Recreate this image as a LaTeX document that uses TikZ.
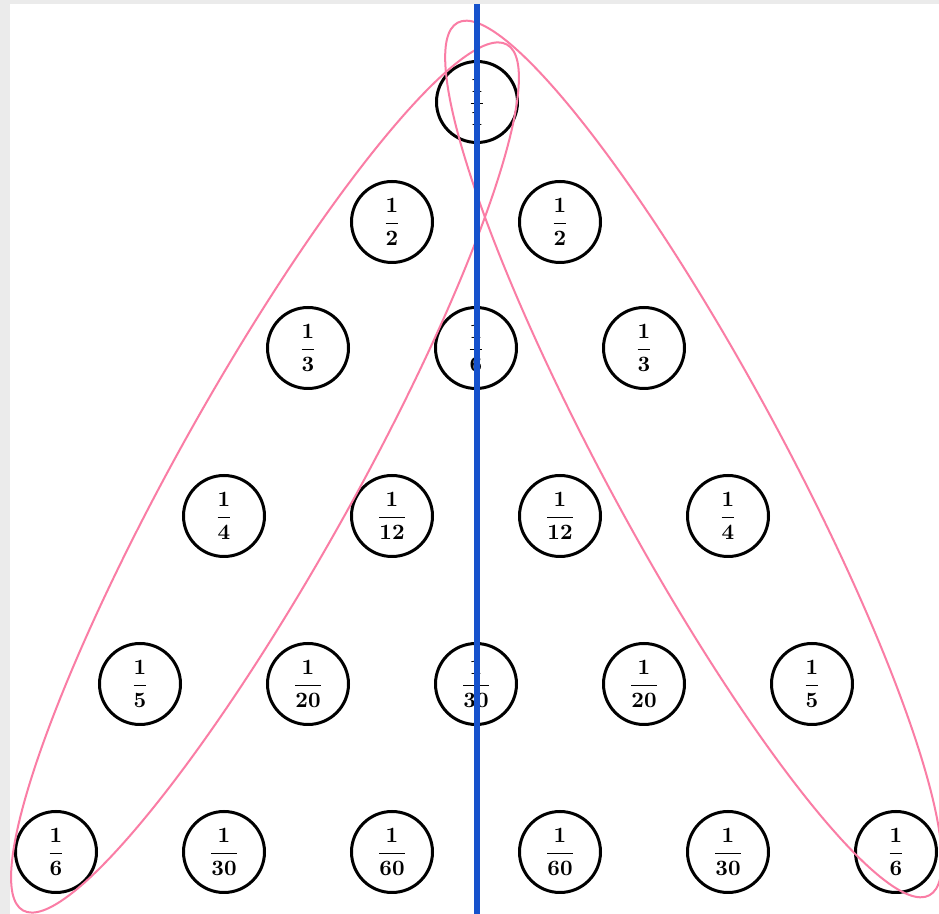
\documentclass[tikz,border=0pt]{standalone}
\definecolor{bgc}{RGB}{235,235,235}
\definecolor{pinkc}{RGB}{250,125,165}
\definecolor{bluec}{RGB}{22,82,204}
\begin{document}
\begin{tikzpicture}[x=0.5pt,y=-0.5pt,
  cell/.style={circle,draw=black,line width=1.5pt,minimum size=40.5pt,inner sep=0pt,font=\fontsize{11}{13}\selectfont\boldmath},
  loopline/.style={draw=pinkc,line width=1pt},
  axisline/.style={draw=bluec,line width=3pt}]
\fill[bgc] (0,0) rectangle (939,914);
\fill[white] (10,4) rectangle (939,914);
\useasboundingbox (0,0) rectangle (939,914);
% row 1
\node[cell] (a1) at (477,102) {$\displaystyle\frac{1}{1}$};
% row 2
\node[cell] (b1) at (392,222) {$\displaystyle\frac{1}{2}$};
\node[cell] (b2) at (560,222) {$\displaystyle\frac{1}{2}$};
% row 3
\node[cell] (c1) at (308,348) {$\displaystyle\frac{1}{3}$};
\node[cell] (c2) at (476,348) {$\displaystyle\frac{1}{6}$};
\node[cell] (c3) at (644,348) {$\displaystyle\frac{1}{3}$};
% row 4
\node[cell] (d1) at (224,516) {$\displaystyle\frac{1}{4}$};
\node[cell] (d2) at (392,516) {$\displaystyle\frac{1}{12}$};
\node[cell] (d3) at (560,516) {$\displaystyle\frac{1}{12}$};
\node[cell] (d4) at (728,516) {$\displaystyle\frac{1}{4}$};
% row 5
\node[cell] (e1) at (140,684) {$\displaystyle\frac{1}{5}$};
\node[cell] (e2) at (308,684) {$\displaystyle\frac{1}{20}$};
\node[cell] (e3) at (476,684) {$\displaystyle\frac{1}{30}$};
\node[cell] (e4) at (644,684) {$\displaystyle\frac{1}{20}$};
\node[cell] (e5) at (812,684) {$\displaystyle\frac{1}{5}$};
% row 6
\node[cell] (f1) at (56,852) {$\displaystyle\frac{1}{6}$};
\node[cell] (f2) at (224,852) {$\displaystyle\frac{1}{30}$};
\node[cell] (f3) at (392,852) {$\displaystyle\frac{1}{60}$};
\node[cell] (f4) at (560,852) {$\displaystyle\frac{1}{60}$};
\node[cell] (f5) at (728,852) {$\displaystyle\frac{1}{30}$};
\node[cell] (f6) at (896,852) {$\displaystyle\frac{1}{6}$};
% pink loops
\draw[loopline, shift={(265,477.5)}, rotate=60.8] (0,0) ellipse [x radius=496, y radius=88];
\draw[loopline, shift={(693.5,459)}, rotate=-61.6] (0,0) ellipse [x radius=496, y radius=88];
% blue axis
\coordinate (ltop) at (477,4);
\coordinate (lbot) at (477,914);
\draw[axisline] (ltop) -- (lbot);
\end{tikzpicture}
\end{document}
